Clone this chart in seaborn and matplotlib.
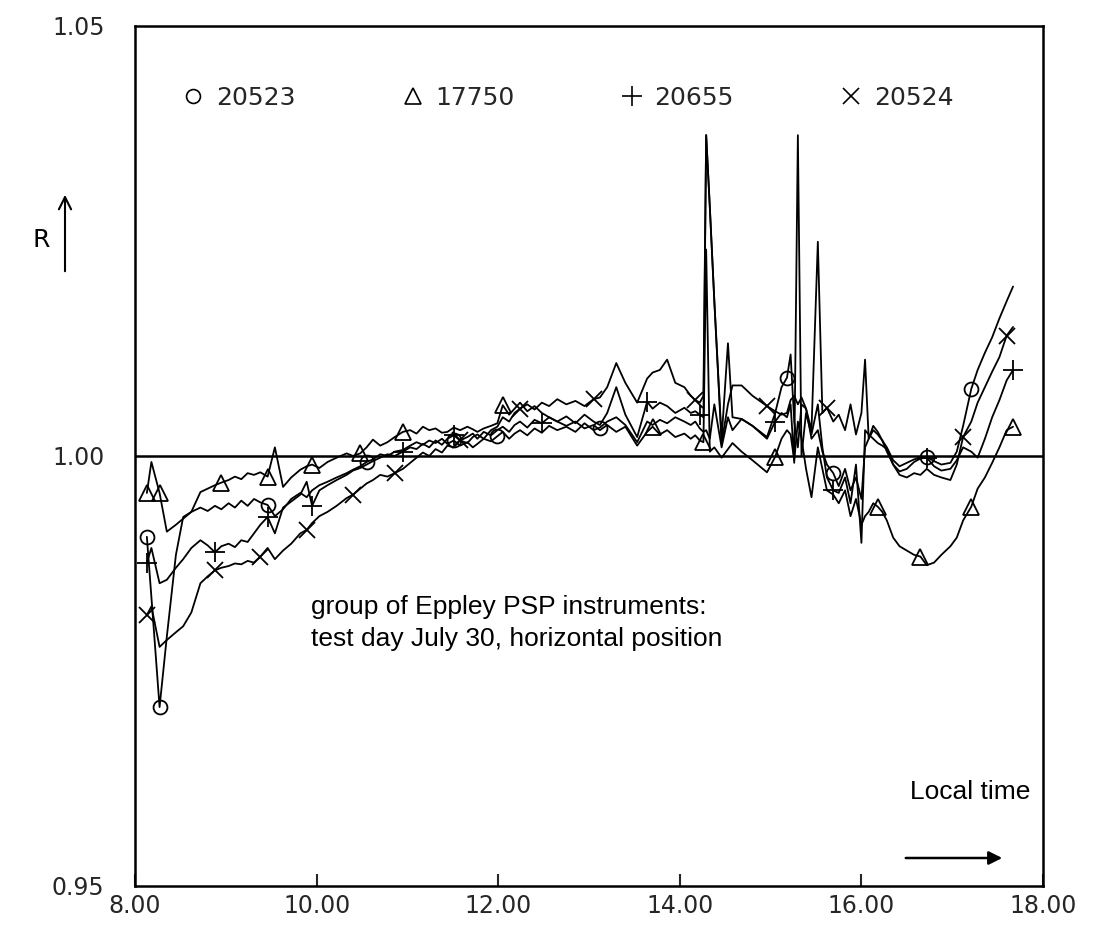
import matplotlib
matplotlib.use("Agg")
import matplotlib.pyplot as plt
from matplotlib.lines import Line2D
import seaborn as sns
import pandas as pd

# ---------------- data ----------------
time_h = [
    8.13, 8.18, 8.27, 8.35, 8.45, 8.53, 8.62, 8.72, 8.80, 8.88,
    8.95, 9.03, 9.10, 9.17, 9.24, 9.31, 9.38, 9.46, 9.54, 9.63,
    9.72, 9.82, 9.89, 9.95, 10.03, 10.12, 10.22, 10.33, 10.40, 10.48,
    10.55, 10.62, 10.70, 10.78, 10.86, 10.95, 11.03, 11.10, 11.17, 11.24,
    11.31, 11.38, 11.44, 11.51, 11.58, 11.66, 11.72, 11.77, 11.84, 11.92,
    11.99, 12.05, 12.12, 12.18, 12.24, 12.32, 12.40, 12.48, 12.56, 12.65,
    12.75, 12.85, 12.95, 13.05, 13.12, 13.20, 13.30, 13.40, 13.53, 13.64,
    13.70, 13.78, 13.86, 13.95, 14.05, 14.12, 14.17, 14.22, 14.26, 14.29,
    14.33, 14.38, 14.46, 14.53, 14.58, 14.68, 14.80, 14.96, 15.05, 15.12,
    15.18, 15.22, 15.26, 15.30, 15.34, 15.39, 15.45, 15.52, 15.57, 15.62,
    15.69, 15.75, 15.82, 15.88, 15.94, 16.00, 16.04, 16.08, 16.13, 16.18,
    16.23, 16.28, 16.35, 16.42, 16.50, 16.58, 16.65, 16.72, 16.80, 16.88,
    16.98, 17.05, 17.12, 17.21, 17.28, 17.36, 17.44, 17.52, 17.60, 17.67,
]

r_20523 = [
    0.9906, 0.9836, 0.9708, 0.9790, 0.9885, 0.9929, 0.9935, 0.9940, 0.9936, 0.9942,
    0.9938, 0.9945, 0.9940, 0.9948, 0.9942, 0.9950, 0.9946, 0.9943, 0.9930, 0.9938,
    0.9950, 0.9957, 0.9952, 0.9960, 0.9966, 0.9970, 0.9975, 0.9980, 0.9984, 0.9988,
    0.9993, 0.9996, 1.0002, 1.0000, 1.0005, 1.0007, 1.0012, 1.0016, 1.0013, 1.0018,
    1.0015, 1.0020, 1.0014, 1.0018, 1.0012, 1.0016, 1.0010, 1.0014, 1.0020, 1.0017,
    1.0023, 1.0028, 1.0020, 1.0026, 1.0030, 1.0024, 1.0032, 1.0027, 1.0035, 1.0030,
    1.0034, 1.0028, 1.0038, 1.0030, 1.0033, 1.0040, 1.0045, 1.0036, 1.0016, 1.0040,
    1.0036, 1.0042, 1.0038, 1.0045, 1.0040, 1.0036, 1.0040, 1.0032, 1.0028, 1.0030,
    1.0020, 1.0060, 1.0010, 1.0045, 1.0030, 1.0043, 1.0035, 1.0022, 1.0050, 1.0080,
    1.0091, 1.0118, 1.0040, 1.0010, 1.0060, 1.0055, 1.0020, 1.0030, 1.0005, 0.9990,
    0.9980, 0.9965, 0.9985, 0.9960, 0.9975, 0.9950, 1.0010, 1.0020, 1.0030, 1.0025,
    1.0018, 1.0010, 0.9995, 0.9988, 0.9992, 0.9996, 0.9998, 0.9999, 0.9994, 0.9990,
    0.9992, 1.0005, 1.0035, 1.0078, 1.0100, 1.0120, 1.0138, 1.0160, 1.0180, 1.0197,
]

r_17750 = [
    0.9957, 0.9993, 0.9957, 0.9912, 0.9920, 0.9927, 0.9935, 0.9958, 0.9962, 0.9966,
    0.9969, 0.9972, 0.9976, 0.9973, 0.9980, 0.9978, 0.9981, 0.9976, 1.0010, 0.9964,
    0.9975, 0.9984, 0.9988, 0.9990, 0.9986, 0.9993, 0.9998, 1.0003, 1.0000, 1.0003,
    1.0010, 1.0019, 1.0012, 1.0016, 1.0022, 1.0028, 1.0030, 1.0026, 1.0034, 1.0030,
    1.0032, 1.0027, 1.0028, 1.0033, 1.0030, 1.0034, 1.0031, 1.0028, 1.0032, 1.0035,
    1.0038, 1.0059, 1.0048, 1.0055, 1.0062, 1.0052, 1.0058, 1.0050, 1.0045, 1.0040,
    1.0035, 1.0040, 1.0032, 1.0036, 1.0030, 1.0036, 1.0028, 1.0034, 1.0012, 1.0028,
    1.0034, 1.0025, 1.0030, 1.0022, 1.0026, 1.0020, 1.0024, 1.0018, 1.0016, 1.0240,
    1.0005, 1.0010, 0.9998, 1.0008, 1.0015, 1.0005, 0.9995, 0.9981, 0.9999, 1.0020,
    1.0030, 1.0025, 0.9995, 1.0040, 1.0020, 0.9985, 0.9952, 1.0010, 0.9985, 0.9960,
    0.9955, 0.9945, 0.9960, 0.9930, 0.9950, 0.9920, 0.9930, 0.9935, 0.9945, 0.9941,
    0.9935, 0.9925, 0.9905, 0.9895, 0.9890, 0.9885, 0.9883, 0.9873, 0.9876, 0.9885,
    0.9895, 0.9905, 0.9925, 0.9941, 0.9962, 0.9975, 0.9992, 1.0010, 1.0030, 1.0034,
]

r_20655 = [
    0.9876, 0.9893, 0.9852, 0.9856, 0.9870, 0.9880, 0.9893, 0.9902, 0.9896, 0.9888,
    0.9895, 0.9898, 0.9894, 0.9902, 0.9900, 0.9910, 0.9920, 0.9929, 0.9910, 0.9940,
    0.9947, 0.9955, 0.9970, 0.9942, 0.9960, 0.9966, 0.9972, 0.9978, 0.9983, 0.9986,
    0.9990, 0.9994, 0.9998, 1.0002, 1.0000, 1.0005, 1.0010, 1.0008, 1.0014, 1.0010,
    1.0018, 1.0013, 1.0020, 1.0024, 1.0018, 1.0022, 1.0026, 1.0020, 1.0028, 1.0024,
    1.0030, 1.0034, 1.0028, 1.0036, 1.0040, 1.0033, 1.0042, 1.0038, 1.0045, 1.0040,
    1.0046, 1.0038, 1.0048, 1.0040, 1.0036, 1.0050, 1.0080, 1.0048, 1.0022, 1.0063,
    1.0055, 1.0062, 1.0058, 1.0050, 1.0056, 1.0050, 1.0052, 1.0048, 1.0045, 1.0373,
    1.0290, 1.0180, 1.0020, 1.0131, 1.0045, 1.0043, 1.0035, 1.0020, 1.0040, 1.0050,
    1.0045, 1.0060, 0.9992, 1.0373, 1.0000, 1.0050, 1.0025, 1.0060, 1.0010, 0.9975,
    0.9960, 0.9957, 0.9975, 0.9945, 0.9990, 0.9899, 1.0030, 1.0025, 1.0020, 1.0015,
    1.0012, 1.0008, 0.9990, 0.9982, 0.9985, 0.9993, 0.9997, 0.9998, 0.9988, 0.9983,
    0.9985, 0.9995, 1.0010, 1.0005, 0.9998, 1.0020, 1.0045, 1.0065, 1.0088, 1.0100,
]

r_20524 = [
    0.9815, 0.9825, 0.9778, 0.9786, 0.9795, 0.9802, 0.9818, 0.9852, 0.9860, 0.9867,
    0.9870, 0.9872, 0.9875, 0.9874, 0.9878, 0.9876, 0.9883, 0.9893, 0.9880, 0.9890,
    0.9898, 0.9910, 0.9914, 0.9922, 0.9930, 0.9935, 0.9942, 0.9951, 0.9955, 0.9962,
    0.9968, 0.9972, 0.9978, 0.9976, 0.9980, 0.9985, 0.9992, 0.9998, 1.0004, 1.0000,
    1.0008, 1.0004, 1.0012, 1.0010, 1.0018, 1.0015, 1.0022, 1.0025, 1.0020, 1.0030,
    1.0034, 1.0045, 1.0040, 1.0050, 1.0055, 1.0060, 1.0054, 1.0062, 1.0058, 1.0066,
    1.0060, 1.0064, 1.0058, 1.0066, 1.0068, 1.0080, 1.0108, 1.0085, 1.0062, 1.0090,
    1.0097, 1.0100, 1.0112, 1.0085, 1.0080, 1.0070, 1.0065, 1.0062, 1.0070, 1.0373,
    1.0290, 1.0180, 1.0015, 1.0060, 1.0082, 1.0082, 1.0070, 1.0058, 1.0052, 1.0048,
    1.0050, 1.0065, 1.0070, 1.0060, 1.0068, 1.0055, 1.0030, 1.0249, 1.0050, 1.0056,
    1.0040, 1.0048, 1.0030, 1.0060, 1.0025, 1.0050, 1.0112, 1.0020, 1.0035, 1.0028,
    1.0018, 1.0005, 0.9990, 0.9978, 0.9975, 0.9980, 0.9978, 0.9985, 0.9978, 0.9975,
    0.9972, 0.9990, 1.0022, 1.0040, 1.0062, 1.0080, 1.0098, 1.0115, 1.0140, 1.0150,
]

instruments = ["20523", "17750", "20655", "20524"]
marker_idx_20523 = [0, 2, 17, 30, 43, 50, 64, 90, 100, 117, 123]
marker_idx_17750 = [0, 2, 10, 17, 23, 29, 35, 51, 70, 78, 88, 109, 116, 123, 129]
marker_idx_20655 = [0, 9, 17, 23, 35, 43, 57, 69, 77, 88, 100, 117, 129]
marker_idx_20524 = [0, 9, 16, 22, 28, 34, 44, 54, 63, 76, 87, 99, 122, 128]

x_ticks = [8, 10, 12, 14, 16, 18]
x_tick_labels = ["8.00", "10.00", "12.00", "14.00", "16.00", "18.00"]
y_ticks = [0.95, 1.00, 1.05]
y_tick_labels = ["0.95", "1.00", "1.05"]

# ---------------- plot ----------------
sns.set_theme(style="white")
plt.rcParams["font.family"] = ["DejaVu Sans"]

fig = plt.figure(figsize=(11.07, 9.33), dpi=100)
ax = fig.add_axes([0.1220, 0.0504, 0.8202, 0.9218])

series = {
    "20523": (r_20523, "o", marker_idx_20523, 10),
    "17750": (r_17750, "^", marker_idx_17750, 11),
    "20655": (r_20655, "+", marker_idx_20655, 14),
    "20524": (r_20524, "x", marker_idx_20524, 12),
}

for name in instruments:
    vals, mk, idx, ms = series[name]
    df = pd.DataFrame({"time": time_h, "R": vals})
    sns.lineplot(data=df, x="time", y="R", ax=ax, color="black", lw=1.3,
                 estimator=None, sort=False, marker=mk, markevery=idx,
                 markersize=ms, markeredgecolor="black",
                 markerfacecolor="none", markeredgewidth=1.3)

ax.axhline(1.0, color="black", lw=1.8)

ax.set_xlim(8, 18)
ax.set_ylim(0.95, 1.05)
ax.set_xticks(x_ticks)
ax.set_xticklabels(x_tick_labels)
ax.set_yticks(y_ticks)
ax.set_yticklabels(y_tick_labels)
ax.set_xlabel("")
ax.set_ylabel("")
ax.tick_params(axis="x", direction="in", length=9, width=1.5, pad=6,
               labelsize=17, bottom=True)
ax.tick_params(axis="y", direction="in", length=0, pad=22, labelsize=17,
               left=True)
for s in ax.spines.values():
    s.set_color("black")
    s.set_linewidth(1.8)

# legend
handles = []
for name in instruments:
    vals, mk, idx, ms = series[name]
    handles.append(Line2D([], [], linestyle="none", marker=mk, markersize=ms,
                          markeredgecolor="black", markerfacecolor="none",
                          markeredgewidth=1.2, label=name))
ax.legend(handles=handles, loc="center", bbox_to_anchor=(0.476, 0.916),
          ncol=4, frameon=False, fontsize=18, handlelength=1.0,
          handletextpad=0.4, columnspacing=4.2)

# annotation text
ax.text(9.94, 0.9806,
        "group of Eppley PSP instruments:\ntest day July 30, horizontal position",
        fontsize=19, family=["Liberation Sans", "DejaVu Sans"], va="center",
        ha="left", linespacing=1.45, color="black")

# R with arrow
fig.text(41, 933 - 240, "R", transform=None, fontsize=18, ha="center",
         va="center", color="black")
ax.annotate("", xy=(65, 933 - 192), xycoords="figure pixels",
            xytext=(65, 933 - 274), textcoords="figure pixels",
            arrowprops=dict(arrowstyle="->", lw=1.5, color="black",
                            mutation_scale=22))

# Local time with arrow
fig.text(1030, 933 - 792, "Local time", transform=None, fontsize=19,
         family=["Liberation Sans", "DejaVu Sans"], ha="right", va="center",
         color="black")
ax.annotate("", xy=(1005, 933 - 858), xycoords="figure pixels",
            xytext=(903, 933 - 858), textcoords="figure pixels",
            arrowprops=dict(arrowstyle="-|>", lw=1.8, color="black",
                            mutation_scale=20))

fig.savefig("out.png", dpi=100)
